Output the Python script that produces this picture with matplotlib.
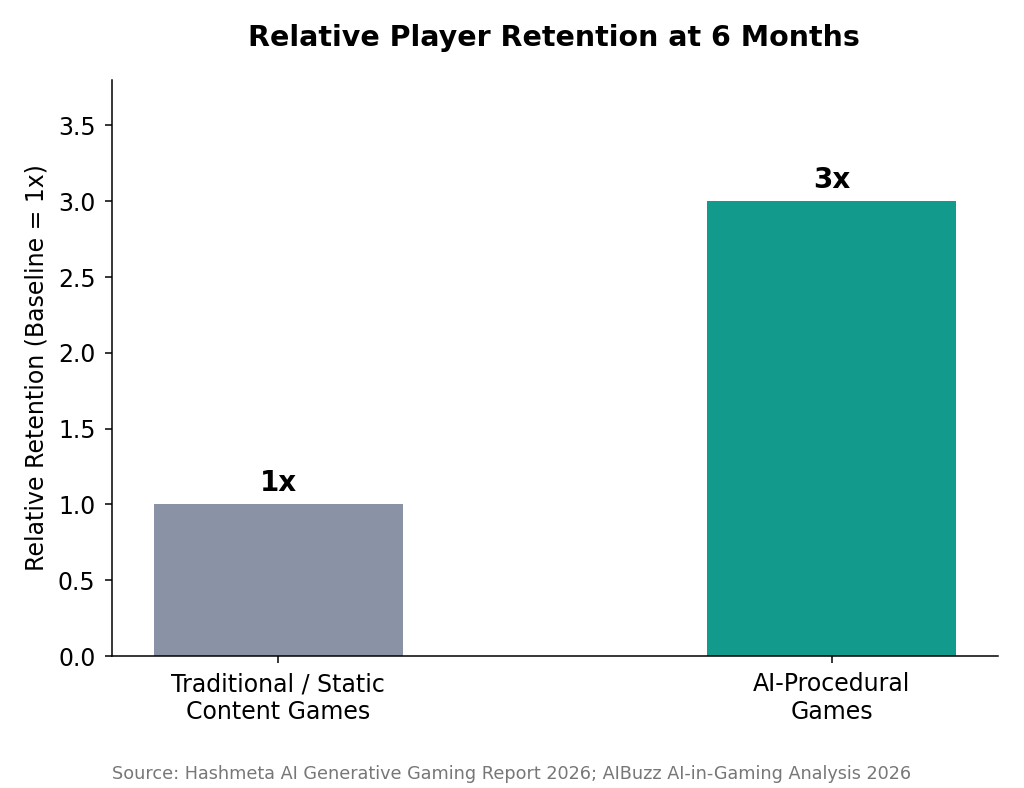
import matplotlib
matplotlib.use("Agg")
import matplotlib.pyplot as plt

categories = ["Traditional / Static\nContent Games", "AI-Procedural\nGames"]
values = [1, 3]
labels = ["1x", "3x"]
colors = ["#8A93A6", "#129B8D"]

fig = plt.figure(figsize=(10.24, 7.88), dpi=100)
ax = fig.add_axes([112/1024, 1-656/788, (998-112)/1024, (656-80)/788])
x = list(range(len(categories)))
bars = ax.bar(x, values, width=0.45, color=colors)
for xi, v, lab in zip(x, values, labels):
    ax.text(xi, v + 0.05, lab, ha="center", va="bottom", fontsize=20, fontweight="bold")
ax.set_xlim(-0.3, 1.3)
ax.set_ylim(0, 3.8)
ax.set_xticks(x)
ax.set_xticklabels(categories, fontsize=17)
ax.tick_params(axis="both", length=5.3, pad=6.5, width=1.1)
ax.tick_params(axis="y", labelsize=17)
ax.set_ylabel("Relative Retention (Baseline = 1x)", fontsize=17, labelpad=7)
ax.spines["top"].set_visible(False)
ax.spines["right"].set_visible(False)
ax.spines["left"].set_linewidth(1.1)
ax.spines["bottom"].set_linewidth(1.1)
fig.text(554/1024, 1-38/788, "Relative Player Retention at 6 Months", ha="center", va="center",
         fontsize=20.5, fontweight="bold")
fig.text(512/1024, 1-774/788, "Source: Hashmeta AI Generative Gaming Report 2026; AIBuzz AI-in-Gaming Analysis 2026",
         ha="center", va="center", fontsize=12.7, color="#777777")
fig.savefig("out.png", dpi=100)
